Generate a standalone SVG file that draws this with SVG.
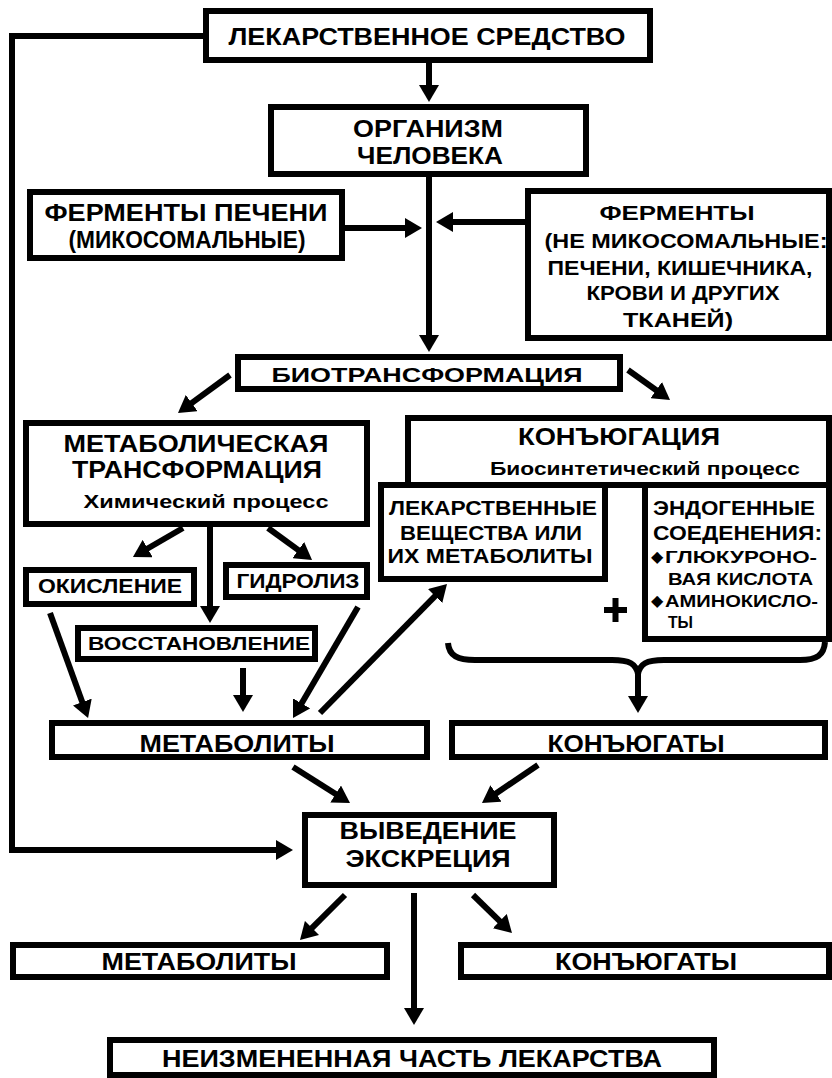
<svg xmlns="http://www.w3.org/2000/svg" width="832" height="1078" viewBox="0 0 832 1078">
<style>
.box{fill:#fff;stroke:#000;stroke-width:6}
.t{font-family:"Liberation Sans",Arial,sans-serif;font-weight:bold;fill:#000;text-anchor:middle}
.l{text-anchor:start}
.b{font-family:"DejaVu Sans",sans-serif;font-size:16px;fill:#000}
.ln{stroke:#000;stroke-width:6;fill:none}
.a{marker-end:url(#ah)}
</style>
<defs>
<marker id="ah" viewBox="0 0 17 20" refX="1" refY="10" markerWidth="17" markerHeight="20" markerUnits="userSpaceOnUse" orient="auto">
<path d="M0,0 L17,10 L0,20 z" fill="#000"/>
</marker>
</defs>
<rect width="832" height="1078" fill="#fff"/>

<g id="connectors">
<polyline class="ln a" points="206,36 12,36 12,850 277,850"/>
<line class="ln a" x1="429" y1="63" x2="429" y2="86"/>
<line class="ln a" x1="345" y1="228" x2="406" y2="228"/>
<line class="ln a" x1="525" y1="222" x2="452" y2="222"/>
<line class="ln a" x1="429" y1="177" x2="429" y2="336"/>
<line class="ln a" x1="230" y1="375" x2="190.9" y2="403.6"/>
<line class="ln a" x1="628" y1="370" x2="657" y2="390.7"/>
<line class="ln a" x1="183" y1="528" x2="146.8" y2="549"/>
<line class="ln a" x1="210" y1="527" x2="210" y2="607"/>
<line class="ln a" x1="268" y1="528" x2="299.1" y2="550.6"/>
<line class="ln a" x1="50" y1="613" x2="82.6" y2="703"/>
<line class="ln a" x1="243" y1="668" x2="243" y2="696"/>
<line class="ln a" x1="358" y1="607" x2="301.1" y2="704.2"/>
<line class="ln a" x1="320" y1="713" x2="435.8" y2="595.4"/>
<path class="ln" d="M448,643 C449,656 458,660 475,660 L612,660 C630,660 636,664 638,674 C640,664 646,660 664,660 L800,660 C817,660 824,655 825,642"/>
<line class="ln a" x1="638" y1="673" x2="638" y2="697"/>
<line class="ln a" x1="293" y1="767" x2="336.5" y2="794.5"/>
<line class="ln a" x1="538" y1="765" x2="495.2" y2="794"/>
<line class="ln a" x1="345" y1="895" x2="311.3" y2="928.7"/>
<line class="ln a" x1="414" y1="893" x2="414" y2="1009"/>
<line class="ln a" x1="473" y1="895" x2="500.5" y2="921.8"/>
</g>

<g id="n-drug">
<rect class="box" x="206" y="11" width="444" height="49"/>
<text class="t" x="427" y="45" font-size="24" textLength="397" lengthAdjust="spacingAndGlyphs">ЛЕКАРСТВЕННОЕ СРЕДСТВО</text>
</g>
<g id="n-body">
<rect class="box" x="271" y="107" width="315" height="67"/>
<text class="t" x="428" y="137" font-size="24" textLength="150" lengthAdjust="spacingAndGlyphs">ОРГАНИЗМ</text>
<text class="t" x="430" y="164" font-size="24" textLength="146" lengthAdjust="spacingAndGlyphs">ЧЕЛОВЕКА</text>
</g>
<g id="n-liver-enz">
<rect class="box" x="30" y="192" width="312" height="66"/>
<text class="t" x="186" y="221" font-size="24" textLength="283" lengthAdjust="spacingAndGlyphs">ФЕРМЕНТЫ ПЕЧЕНИ</text>
<text class="t" x="187" y="248" font-size="24" textLength="237" lengthAdjust="spacingAndGlyphs">(МИКОСОМАЛЬНЫЕ)</text>
</g>
<g id="n-other-enz">
<rect class="box" x="528" y="191" width="301" height="147"/>
<text class="t" x="677" y="220" font-size="21" textLength="155" lengthAdjust="spacingAndGlyphs">ФЕРМЕНТЫ</text>
<text class="t" x="686" y="248" font-size="20" textLength="283" lengthAdjust="spacingAndGlyphs">(НЕ МИКОСОМАЛЬНЫЕ:</text>
<text class="t" x="680" y="275" font-size="20" textLength="265" lengthAdjust="spacingAndGlyphs">ПЕЧЕНИ, КИШЕЧНИКА,</text>
<text class="t" x="683" y="300" font-size="20" textLength="193" lengthAdjust="spacingAndGlyphs">КРОВИ И ДРУГИХ</text>
<text class="t" x="678" y="327" font-size="20" textLength="110" lengthAdjust="spacingAndGlyphs">ТКАНЕЙ)</text>
</g>
<g id="n-biotrans">
<rect class="box" x="238" y="357" width="382" height="32"/>
<text class="t" x="427" y="382" font-size="21" textLength="311" lengthAdjust="spacingAndGlyphs">БИОТРАНСФОРМАЦИЯ</text>
</g>
<g id="n-metab-trans">
<rect class="box" x="26" y="423" width="341" height="101"/>
<text class="t" x="196" y="452" font-size="24" textLength="265" lengthAdjust="spacingAndGlyphs">МЕТАБОЛИЧЕСКАЯ</text>
<text class="t" x="197" y="478" font-size="24" textLength="250" lengthAdjust="spacingAndGlyphs">ТРАНСФОРМАЦИЯ</text>
<text class="t" x="206" y="508" font-size="18" textLength="245" lengthAdjust="spacingAndGlyphs">Химический процесс</text>
</g>
<g id="n-conj">
<rect class="box" x="408" y="418" width="421" height="67"/>
<text class="t" x="619" y="445" font-size="23" textLength="202" lengthAdjust="spacingAndGlyphs">КОНЪЮГАЦИЯ</text>
<text class="t" x="645" y="475" font-size="18" textLength="310" lengthAdjust="spacingAndGlyphs">Биосинтетический процесс</text>
</g>
<g id="n-drugs-metab">
<rect class="box" x="381" y="485" width="224" height="94"/>
<text class="t" x="493" y="515" font-size="20" textLength="208" lengthAdjust="spacingAndGlyphs">ЛЕКАРСТВЕННЫЕ</text>
<text class="t" x="491" y="540" font-size="20" textLength="182" lengthAdjust="spacingAndGlyphs">ВЕЩЕСТВА ИЛИ</text>
<text class="t" x="490" y="563" font-size="20" textLength="205" lengthAdjust="spacingAndGlyphs">ИХ МЕТАБОЛИТЫ</text>
</g>
<g id="n-endog">
<rect class="box" x="645" y="485" width="184" height="154"/>
<text class="t l" x="653" y="515" font-size="20" textLength="162" lengthAdjust="spacingAndGlyphs">ЭНДОГЕННЫЕ</text>
<text class="t l" x="653" y="540" font-size="20" textLength="169" lengthAdjust="spacingAndGlyphs">СОЕДЕНЕНИЯ:</text>
<text class="b" x="651" y="562">◆</text>
<text class="t l" x="665" y="563" font-size="17" textLength="152" lengthAdjust="spacingAndGlyphs">ГЛЮКУРОНО-</text>
<text class="t l" x="668" y="585" font-size="17" textLength="145" lengthAdjust="spacingAndGlyphs">ВАЯ КИСЛОТА</text>
<text class="b" x="651" y="606">◆</text>
<text class="t l" x="665" y="607" font-size="17" textLength="153" lengthAdjust="spacingAndGlyphs">АМИНОКИСЛО-</text>
<text class="t l" x="668" y="628" font-size="17" textLength="25" lengthAdjust="spacingAndGlyphs">ТЫ</text>
</g>
<g id="n-plus">
<path class="ln" d="M604,610 H627 M615.5,598 V622"/>
</g>
<g id="n-oxid">
<rect class="box" x="26" y="570" width="168" height="34"/>
<text class="t" x="110" y="593" font-size="20" textLength="144" lengthAdjust="spacingAndGlyphs">ОКИСЛЕНИЕ</text>
</g>
<g id="n-hydro">
<rect class="box" x="226" y="565" width="141" height="32"/>
<text class="t" x="298" y="588" font-size="20" textLength="123" lengthAdjust="spacingAndGlyphs">ГИДРОЛИЗ</text>
</g>
<g id="n-reduct">
<rect class="box" x="78" y="628" width="237" height="31"/>
<text class="t" x="199" y="650" font-size="19" textLength="222" lengthAdjust="spacingAndGlyphs">ВОССТАНОВЛЕНИЕ</text>
</g>
<g id="n-metabolites">
<rect class="box" x="52" y="723" width="375" height="34"/>
<text class="t" x="237" y="752" font-size="23" textLength="195" lengthAdjust="spacingAndGlyphs">МЕТАБОЛИТЫ</text>
</g>
<g id="n-conjugates">
<rect class="box" x="452" y="723" width="373" height="34"/>
<text class="t" x="636" y="752" font-size="23" textLength="177" lengthAdjust="spacingAndGlyphs">КОНЪЮГАТЫ</text>
</g>
<g id="n-excretion">
<rect class="box" x="305" y="815" width="249" height="70"/>
<text class="t" x="428" y="839" font-size="23" textLength="177" lengthAdjust="spacingAndGlyphs">ВЫВЕДЕНИЕ</text>
<text class="t" x="428" y="867" font-size="23" textLength="165" lengthAdjust="spacingAndGlyphs">ЭКСКРЕЦИЯ</text>
</g>
<g id="n-metabolites-out">
<rect class="box" x="13" y="945" width="374" height="32"/>
<text class="t" x="199" y="970" font-size="23" textLength="195" lengthAdjust="spacingAndGlyphs">МЕТАБОЛИТЫ</text>
</g>
<g id="n-conjugates-out">
<rect class="box" x="461" y="945" width="368" height="32"/>
<text class="t" x="646" y="970" font-size="23" textLength="182" lengthAdjust="spacingAndGlyphs">КОНЪЮГАТЫ</text>
</g>
<g id="n-unchanged">
<rect class="box" x="110" y="1040" width="604" height="35"/>
<text class="t" x="412" y="1067" font-size="23" textLength="500" lengthAdjust="spacingAndGlyphs">НЕИЗМЕНЕННАЯ ЧАСТЬ ЛЕКАРСТВА</text>
</g>
</svg>
